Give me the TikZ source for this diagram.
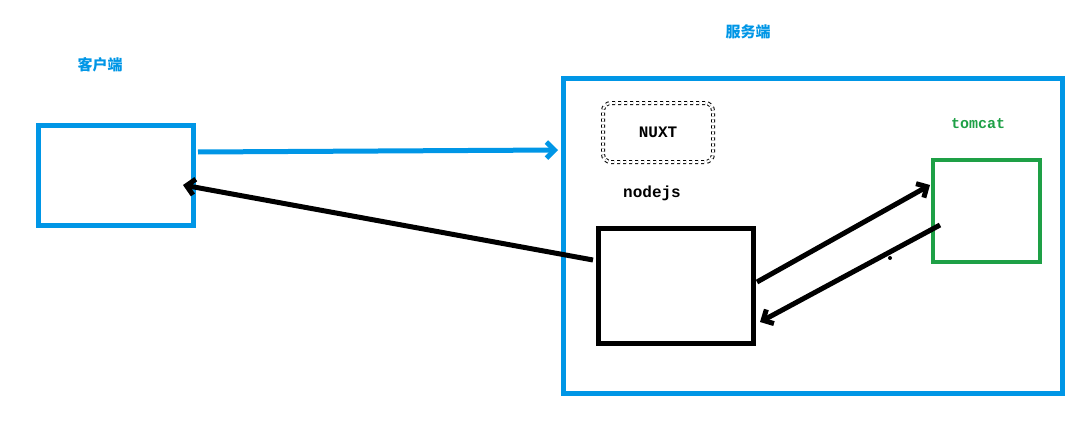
\documentclass[tikz,border=0pt]{standalone}
\usepackage{fontspec}
\newfontfamily\cjk{Noto Sans CJK SC}
\setmonofont{Liberation Mono}
\usetikzlibrary{arrows.meta}
\definecolor{blu}{RGB}{0,150,230}
\definecolor{grn}{RGB}{30,160,70}
\begin{document}
\begin{tikzpicture}[x=1pt,y=-1pt,
  bluebox/.style={draw=blu,line width=5pt,inner sep=0pt},
  blackbox/.style={draw=black,line width=5pt,inner sep=0pt},
  arr/.style={line width=5pt,-{Straight Barb[length=8pt,width=16pt]}},
  lbl/.style={font=\cjk\bfseries\fontsize{15}{15}\selectfont,text=blu}]
\useasboundingbox (0,0) rectangle (1088,447);
\node[lbl] (kh) at (100,65) {客户端};
\node[lbl] (fw) at (748,32) {服务端};
\node[bluebox,minimum width=155pt,minimum height=100pt] (client) at (115.5,175) {};
\node[bluebox,minimum width=499pt,minimum height=315pt] (server) at (812.5,235.5) {};
\node[draw,double,double distance=2pt,dashed,rounded corners=8pt,line width=1pt,minimum width=110pt,minimum height=59pt,font=\ttfamily\bfseries\fontsize{16}{16}\selectfont] (nuxt) at (658,132.5) {NUXT};
\node[font=\ttfamily\bfseries\fontsize{16}{16}\selectfont] (nj) at (652,193) {nodejs};
\node[blackbox,minimum width=155pt,minimum height=115pt] (node) at (675.5,285.5) {};
\node[font=\ttfamily\bfseries\fontsize{15}{15}\selectfont,text=grn] (tl) at (978,124) {tomcat};
\node[draw=grn,line width=4pt,minimum width=107pt,minimum height=102pt] (tomcat) at (986.5,211) {};
\coordinate (a1) at (198,152);
\coordinate (a2) at (558,150);
\coordinate (b1) at (593,260);
\coordinate (b2) at (183,185);
\coordinate (c1) at (757,282);
\coordinate (c2) at (930,185);
\coordinate (d1) at (940,225);
\coordinate (d2) at (760,322);
\draw[arr,draw=blu] (a1) -- (a2);
\draw[arr] (b1) -- (b2);
\draw[arr] (c1) -- (c2);
\draw[arr] (d1) -- (d2);
\fill (890,258) circle (2pt);
\end{tikzpicture}
\end{document}
